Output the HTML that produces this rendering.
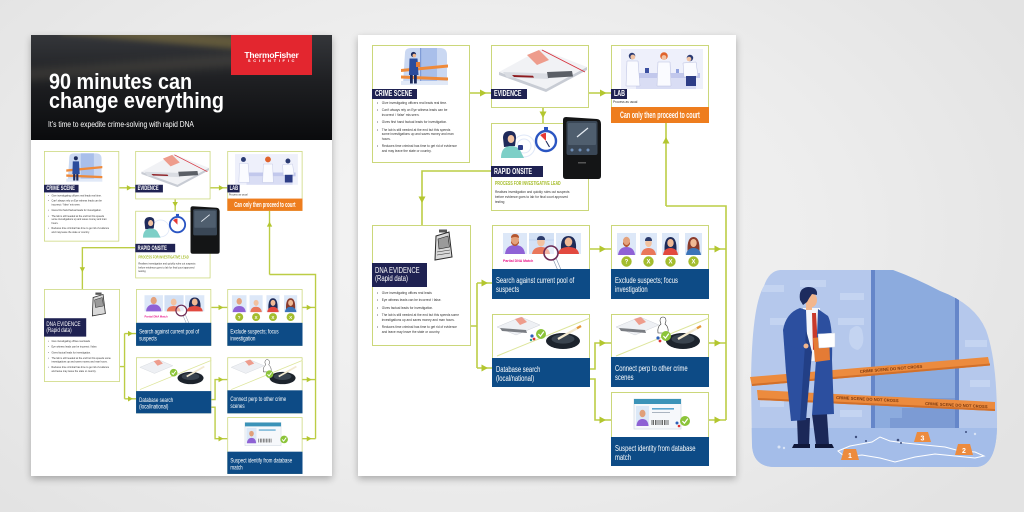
<!DOCTYPE html>
<html><head><meta charset="utf-8"><title>90 minutes can change everything</title>
<style>
*{margin:0;padding:0;box-sizing:border-box}
html,body{width:1024px;height:512px;overflow:hidden}
body{position:relative;font-family:"Liberation Sans",Arial,sans-serif;background:radial-gradient(ellipse 62% 78% at 46% 45%,#f5f5f5 0%,#ededed 55%,#e3e3e3 100%)}
.pg{position:absolute;background:#fff;box-shadow:0 3px 7px rgba(0,0,0,.28)}
.fl{position:absolute;left:0;top:0;width:1024px;height:512px;transform-origin:0 0}
.fl>svg{position:absolute;left:0;top:0;overflow:visible}
.bx{position:absolute;border:1.3px solid #cbd77a;background:#fff}
.lb{position:absolute;background:#1f2252;overflow:hidden}
.lt{font-size:8px;font-weight:bold;color:#fff;line-height:9.5px;white-space:nowrap;transform:scaleX(.67);transform-origin:0 0;margin-left:2.5px}
.bl{position:absolute;background:#0d4b86;padding:6.5px 0 0 4px}
.bt{font-size:8.5px;line-height:9px;color:#fff;white-space:nowrap;transform:scaleX(.69);transform-origin:0 0}
.sm{position:absolute;font-size:4px;line-height:4.7px;color:#333;white-space:nowrap;transform:scaleX(.8);transform-origin:0 0}
.sm div{position:relative;padding-left:6px;margin-bottom:2.6px}
.sm div:before{content:"\2022";position:absolute;left:0;top:0}
.ab{position:absolute;white-space:nowrap}
</style></head><body>

<!-- LEFT PAGE -->
<div class="pg" style="left:31px;top:35px;width:301px;height:441px"></div>
<div style="position:absolute;left:31px;top:35px;width:301px;height:105px;background:linear-gradient(180deg,#34363a 0%,#1e1f22 45%,#0a0b0d 100%);overflow:hidden">
  <div style="position:absolute;left:30px;top:-6px;width:190px;height:13px;background:rgba(190,160,70,.35);transform:rotate(5deg);filter:blur(3px)"></div>
  <div style="position:absolute;left:-20px;top:26px;width:260px;height:12px;background:rgba(160,150,120,.16);transform:rotate(-4deg);filter:blur(4px)"></div>
</div>
<div style="position:absolute;left:231px;top:35px;width:81px;height:40px;background:#e3262f"></div>
<div class="ab" style="left:231px;top:50.5px;width:81px;text-align:center;font-size:8.5px;line-height:9px;font-weight:bold;color:#fff;letter-spacing:-.2px">ThermoFisher</div>
<div class="ab" style="left:231px;top:59px;width:81px;text-align:center;font-size:4px;line-height:4px;font-weight:bold;color:#fff;letter-spacing:2.7px;padding-left:2px">SCIENTIFIC</div>
<div class="ab" style="left:49px;top:72px;font-size:22px;line-height:19px;font-weight:bold;color:#fff;transform:scaleX(.9);transform-origin:0 0">90 minutes can<br>change everything</div>
<div class="ab" style="left:48px;top:120.5px;font-size:8px;line-height:8px;color:#fff;transform:scaleX(.84);transform-origin:0 0">It’s time to expedite crime-solving with rapid DNA</div>

<!-- MIDDLE PAGE -->
<div class="pg" style="left:358px;top:35px;width:378px;height:441px"></div>

<!-- FLOW (middle) -->
<div class="fl">
<svg width="1024" height="512">
<path fill="none" stroke="#bccd45" stroke-width="1.6" d="M470,93H491M589,93H611M543,108V123M491,171H422V225M666,206V123M666,206H726V420M471,326H477M477,283V368M477,283H492M477,368H492M590,249H611M590,369H595V343H611M590,379H595V420H611M709,249H726M709,343H726M709,420H726"/>
<g fill="#b3c62f">
<path d="M480,89.5L486.5,93L480,96.5Z"/><path d="M600,89.5L606.5,93L600,96.5Z"/>
<path d="M481.5,279.5L488,283L481.5,286.5Z"/><path d="M481.5,364.5L488,368L481.5,371.5Z"/>
<path d="M599.5,245.5L606,249L599.5,252.5Z"/><path d="M599.5,339.5L606,343L599.5,346.5Z"/><path d="M599.5,416.5L606,420L599.5,423.5Z"/>
<path d="M714.5,245.5L721,249L714.5,252.5Z"/><path d="M714.5,339.5L721,343L714.5,346.5Z"/><path d="M714.5,416.5L721,420L714.5,423.5Z"/>
<path d="M539.5,111.5L543,118L546.5,111.5Z"/><path d="M418.5,196.5L422,203L425.5,196.5Z"/>
<path d="M662.5,143.5L666,137L669.5,143.5Z"/>
</g>
</svg>
<div class="bx" style="left:372px;top:45px;width:98px;height:118px"></div>
<div class="bx" style="left:491px;top:45px;width:98px;height:63px"></div>
<div class="bx" style="left:611px;top:45px;width:98px;height:78px"></div>
<div class="bx" style="left:491px;top:123px;width:98px;height:88px"></div>
<div class="bx" style="left:372px;top:225px;width:99px;height:121px"></div>
<div class="bx" style="left:492px;top:225px;width:98px;height:74px"></div>
<div class="bx" style="left:611px;top:225px;width:98px;height:74px"></div>
<div class="bx" style="left:492px;top:314px;width:98px;height:73px"></div>
<div class="bx" style="left:611px;top:314px;width:98px;height:73px"></div>
<div class="bx" style="left:611px;top:392px;width:98px;height:74px"></div>
<svg width="1024" height="512">
<!-- crime scene -->
<path d="M405,53Q405,48 411,48L440,48Q447,48 447,55L447,84L403,84Z" fill="#cad8f2"/>
<rect x="420" y="48" width="17" height="36" fill="#a9bfea"/>
<rect x="420" y="48" width="1.2" height="36" fill="#7f9bd6"/>
<rect x="401" y="81" width="47" height="4" fill="#e1e9f7"/>
<path d="M401,69L448,64.5L448,67.5L401,72Z" fill="#ef8a3a"/>
<path d="M401,75.5L448,77.5L448,80.5L401,78.5Z" fill="#ef8a3a"/>
<circle cx="413.5" cy="54.5" r="2.6" fill="#1c2a5c"/>
<circle cx="414.3" cy="55.6" r="1.8" fill="#f2b68d"/>
<path d="M409.5,58.5L417.5,58.5L418.5,75L409,75Z" fill="#2b4c9c"/>
<rect x="410" y="75" width="2.8" height="8.5" fill="#1c2a5c"/>
<rect x="414" y="75" width="2.8" height="8.5" fill="#1c2a5c"/>
<rect x="416" y="62" width="4" height="5" fill="#e47b35"/>
<!-- evidence -->
<path d="M499,72L541,49L587,67L546,89Z" fill="#f1f2f5"/>
<path d="M499,72L546,89L587,67L587,70L546,92L499,75Z" fill="#c8ccd4"/>
<path d="M527,55L539,50L549,60L537,65Z" fill="#ee9c8c"/>
<path d="M542,50L585,72" stroke="#d62f3a" stroke-width=".9"/>
<path d="M503,72L547,73.5L549,79L507,77.5Z" fill="#dadde3"/>
<path d="M512,75L533,75.8L534,77.6L514,77Z" fill="#8e1b1f"/>
<path d="M547,72L572,71L573,76.5L548,78Z" fill="#5b5f66"/>
<!-- lab -->
<rect x="621" y="49" width="82" height="40" fill="#eef0fb"/>
<rect x="628" y="73" width="72" height="5" fill="#c2c8ec"/>
<rect x="636" y="78" width="60" height="11" fill="#d9ddf4"/>
<circle cx="632" cy="56" r="3.2" fill="#2a3a72"/>
<circle cx="632.8" cy="57" r="2.4" fill="#f2c3a3"/>
<path d="M627,61L638,61L640,86L626,86Z" fill="#fafbff" stroke="#b9bfe0" stroke-width=".5"/>
<circle cx="664" cy="56" r="3.8" fill="#e0632c"/>
<circle cx="664" cy="57.5" r="2.4" fill="#f2c3a3"/>
<path d="M658,62L670,62L671,86L657,86Z" fill="#fafbff" stroke="#b9bfe0" stroke-width=".5"/>
<circle cx="690" cy="58" r="3.2" fill="#2a3a72"/>
<circle cx="689" cy="59" r="2.3" fill="#f2c3a3"/>
<path d="M683,63L696,62L698,76L684,77Z" fill="#fafbff" stroke="#b9bfe0" stroke-width=".5"/>
<rect x="686" y="76" width="10" height="10" fill="#2d3d86"/>
<rect x="645" y="68" width="4" height="5" fill="#3a4fa0"/>
<rect x="676" y="69" width="3" height="4" fill="#8fa0dc"/>
<!-- rapid onsite -->
<circle cx="524" cy="146" r="11" fill="none" stroke="#dfe8f8" stroke-width="1"/>
<circle cx="524" cy="146" r="7" fill="none" stroke="#dfe8f8" stroke-width="1"/>
<path d="M503,138Q503,131 510,131Q516,131 516,138L515,146L504,147Z" fill="#1f2a5a"/>
<ellipse cx="511" cy="139" rx="3.3" ry="4" fill="#f2c3a3"/>
<path d="M501,158Q501,147 510,146Q519,146 521,152L524,158Z" fill="#7dcfc7"/>
<rect x="518" y="145" width="5" height="5" rx="1" fill="#2c3c88"/>
<circle cx="546" cy="141" r="10" fill="#fff" stroke="#2a55c2" stroke-width="2.4"/>
<rect x="544" y="127" width="4" height="3" fill="#2a55c2"/>
<path d="M546,141L546,133A8,8 0 0 0 540.3,135.3Z" fill="#e53935"/>
<path d="M546,141L549.5,147" stroke="#1f2a5a" stroke-width="1.1"/>
<path d="M566,117L597,119Q601,119.5 601,124L601,176Q601,179 598,179L566,179Q563,179 563,176L563,120Q563,117 566,117Z" fill="#141516"/>
<rect x="566.5" y="121" width="31" height="34" rx="2" fill="#3a4756"/>
<rect x="568" y="123" width="28" height="22" rx="1" fill="#4f5e6e"/>
<path d="M577,137L588,128" stroke="#e8eef5" stroke-width="1.2"/>
<circle cx="572" cy="150" r="1.5" fill="#6f8fb8"/><circle cx="580" cy="150" r="1.5" fill="#6f8fb8"/><circle cx="588" cy="150" r="1.5" fill="#6f8fb8"/>
<rect x="578" y="162" width="8" height="1.5" fill="#555"/>
<!-- dna icon -->
<rect x="439" y="229.5" width="8" height="3" fill="#555"/>
<path d="M436,236L449,232L452,257L435,260Z" fill="#d9d9d9" stroke="#2a2a2a" stroke-width="1"/>
<path d="M438,239L448,236L449.5,247L439,249Z" fill="#9a9a9a" stroke="#222" stroke-width=".6"/>
<path d="M437,252L450,250M437,255L450,253" stroke="#333" stroke-width=".6"/>
<!-- search portraits -->
<rect x="503" y="233" width="24" height="21" fill="#dde8f8"/>
<path d="M505,254Q506,245 515,245Q524,245 525,254Z" fill="#8f62d6"/>
<ellipse cx="515" cy="240" rx="4" ry="4.8" fill="#e4a27c"/>
<path d="M511,241Q515,248 519,241L519,243Q515,249 511,243Z" fill="#b4562f"/>
<path d="M511,238Q511,234 515,234Q519,234 519,238Q515,236 511,238Z" fill="#b4562f"/>
<rect x="529" y="233" width="25" height="21" fill="#d3e1f5"/>
<path d="M529,240H554M541,233V254" stroke="#bcd0ee" stroke-width=".8"/>
<path d="M532,254Q533,247 541,247Q549,247 550,254Z" fill="#e9775a"/>
<ellipse cx="541" cy="242" rx="3.8" ry="4.5" fill="#f2c2a0"/>
<path d="M537,240Q537,236 541,236Q545,236 545,240Z" fill="#2b3a6a"/>
<rect x="556" y="233" width="25" height="21" fill="#dde8f8"/>
<path d="M561,250Q560,236 568.5,236Q577,236 576,250Z" fill="#1f2b58"/>
<path d="M558,254Q559,247 568.5,247Q578,247 579,254Z" fill="#e2493f"/>
<ellipse cx="568.5" cy="242" rx="3.8" ry="4.5" fill="#f0b995"/>
<path d="M553,259L559,273L562,272L556,258Z" fill="#fff" stroke="#7e8fa8" stroke-width=".6"/>
<circle cx="551" cy="253" r="7" fill="#fff" fill-opacity=".45" stroke="#6d2c55" stroke-width="1.6"/>
<!-- exclude portraits -->
<rect x="617" y="233" width="19" height="22" fill="#dde8f8"/>
<path d="M618,255Q619,247 626.5,247Q634,247 635,255Z" fill="#8f62d6"/>
<ellipse cx="626.5" cy="241" rx="3.5" ry="4.3" fill="#e4a27c"/>
<path d="M623,242Q626.5,248 630,242L630,244Q626.5,250 623,244Z" fill="#b4562f"/>
<rect x="640" y="233" width="17" height="22" fill="#dde8f8"/>
<path d="M641,255Q642,248 648.5,248Q655,248 656,255Z" fill="#e9775a"/>
<ellipse cx="648.5" cy="243" rx="3.3" ry="4" fill="#f2c2a0"/>
<path d="M645,241Q645,237 648.5,237Q652,237 652,241Z" fill="#2b3a6a"/>
<rect x="662" y="233" width="17" height="22" fill="#dde8f8"/>
<path d="M664.5,251Q664,237 670.5,237Q677,237 676.5,251Z" fill="#1f2b58"/>
<path d="M663,255Q664,248 670.5,248Q677,248 678,255Z" fill="#e2493f"/>
<ellipse cx="670.5" cy="243" rx="3.2" ry="4" fill="#f0b995"/>
<rect x="685" y="233" width="17" height="22" fill="#dde8f8"/>
<path d="M687.5,251Q687,237 693.5,237Q700,237 699.5,251Z" fill="#8a3b2c"/>
<path d="M686,255Q687,248 693.5,248Q700,248 701,255Z" fill="#3c74b8"/>
<ellipse cx="693.5" cy="243" rx="3.2" ry="4" fill="#f0b995"/>
<circle cx="626.5" cy="261.5" r="5.2" fill="#a4bd2e"/><circle cx="648.5" cy="261.5" r="5.2" fill="#a4bd2e"/>
<circle cx="670.5" cy="261.5" r="5.2" fill="#a4bd2e"/><circle cx="693.5" cy="261.5" r="5.2" fill="#a4bd2e"/>
<g font-family="Liberation Sans,Arial,sans-serif" font-size="6" font-weight="bold" fill="#fff" text-anchor="middle">
<text x="626.5" y="263.7">?</text><text x="648.5" y="263.7">X</text><text x="670.5" y="263.7">X</text><text x="693.5" y="263.7">X</text>
</g>
<!-- database -->
<path d="M497,356L590,318" stroke="#dde59a" stroke-width="1"/>
<path d="M497,327L521,317L540,325L516,335Z" fill="#eef0f4" stroke="#cfd2d8" stroke-width=".5"/>
<path d="M515,319L522,317L527,322L520,325Z" fill="#ee9c8c"/>
<path d="M500,328L526,330L527,333L502,331Z" fill="#7a7d83"/>
<ellipse cx="563" cy="341" rx="17" ry="8" fill="#1c232c"/>
<ellipse cx="563" cy="339" rx="11.5" ry="4.6" fill="#39434e"/>
<path d="M558,339L581,326" stroke="#f3ead0" stroke-width="2.3"/>
<path d="M577,328.3L581,326" stroke="#e39a3c" stroke-width="2.3"/>
<circle cx="532" cy="336" r="1.6" fill="#2d5fb8"/><circle cx="534" cy="339" r="1.4" fill="#d33"/><circle cx="531" cy="340" r="1.2" fill="#2a9b8f"/>
<circle cx="541" cy="334" r="5" fill="#8cc43a"/>
<path d="M538.4,334L540.4,336.2L543.8,331.6" stroke="#fff" stroke-width="1.2" fill="none"/>
<!-- connect -->
<path d="M616,356L709,318" stroke="#dde59a" stroke-width="1"/>
<path d="M616,327L640,317L659,325L635,335Z" fill="#eef0f4" stroke="#cfd2d8" stroke-width=".5"/>
<path d="M634,319L641,317L646,322L639,325Z" fill="#ee9c8c"/>
<path d="M619,328L645,330L646,333L621,331Z" fill="#7a7d83"/>
<ellipse cx="683" cy="341" rx="17" ry="8" fill="#1c232c"/>
<ellipse cx="683" cy="339" rx="11.5" ry="4.6" fill="#39434e"/>
<path d="M678,339L701,326" stroke="#f3ead0" stroke-width="2.3"/>
<path d="M697,328.3L701,326" stroke="#e39a3c" stroke-width="2.3"/>
<path d="M660,321Q660,317 663,317Q666,317 666,321L665,324Q669,327 668,333L658,333Q657,327 661,324Z" fill="#fff" stroke="#333" stroke-width=".6"/>
<circle cx="658" cy="338" r="1.6" fill="#2d5fb8"/><circle cx="660" cy="341" r="1.4" fill="#d33"/>
<circle cx="666" cy="336" r="5" fill="#8cc43a"/>
<path d="M663.4,336L665.4,338.2L668.8,333.6" stroke="#fff" stroke-width="1.2" fill="none"/>
<!-- suspect id -->
<rect x="634" y="399" width="47" height="30" fill="#f6f8fb" stroke="#c9d3de" stroke-width=".6"/>
<rect x="634" y="399" width="47" height="5" fill="#3b93b8"/>
<rect x="636" y="406" width="13" height="20" fill="#dbe8f7"/>
<path d="M636.5,426Q637,419 642.5,419Q648,419 648.5,426Z" fill="#8e62d4"/>
<ellipse cx="642.5" cy="413.5" rx="3" ry="3.7" fill="#e0a07a"/>
<rect x="652" y="408" width="22" height="1.6" fill="#5aa6cf"/>
<rect x="652" y="412" width="18" height="1" fill="#aab4c0"/>
<path d="M652,420V425M653.5,420V425M655.5,420V425M657,420V425M659,420V425M661,420V425M662.5,420V425M664.5,420V425M666,420V425M668,420V425" stroke="#444" stroke-width=".8"/>
<circle cx="677" cy="423" r="1.5" fill="#2d5fb8"/><circle cx="679" cy="426" r="1.3" fill="#d33"/>
<circle cx="685" cy="421" r="5" fill="#8cc43a"/>
<path d="M682.4,421L684.4,423.2L687.8,418.6" stroke="#fff" stroke-width="1.2" fill="none"/>
</svg>
<div class="lb" style="left:372px;top:89px;width:45px;height:9.5px"><div class="lt">CRIME SCENE</div></div>
<div class="lb" style="left:491px;top:89px;width:36px;height:9.5px"><div class="lt">EVIDENCE</div></div>
<div class="lb" style="left:611px;top:89px;width:16px;height:9.5px"><div class="lt">LAB</div></div>
<div class="lb" style="left:491px;top:166px;width:52px;height:11px"><div class="lt" style="line-height:11px">RAPID ONSITE</div></div>
<div class="lb" style="left:372px;top:263px;width:55px;height:24px;padding-top:3.5px"><div class="lt" style="font-weight:normal;line-height:8.5px;transform:scaleX(.75)">DNA EVIDENCE<br>(Rapid data)</div></div>
<div class="sm" style="left:377px;top:101px">
<div>Give investigating officers real leads real time.</div>
<div>Can’t always rely on Eye witness leads can be<br>incorrect / ‘false’ mis seen.</div>
<div>Gives first hand factual leads for investigation.</div>
<div>The lab is still needed at the end but this speeds<br>some investigations up and saves money and man<br>hours.</div>
<div>Reduces time criminal has time to get rid of evidence<br>and may leave the state or country.</div>
</div>
<div class="sm" style="left:613px;top:100px">Process as usual</div>
<div style="position:absolute;left:611px;top:107px;width:98px;height:16px;background:#ee7d1e;overflow:hidden"><div style="width:163px;text-align:center;font-size:9px;line-height:16px;font-weight:bold;color:#fff;white-space:nowrap;transform:scaleX(.6);transform-origin:0 0">Can only then proceed to court</div></div>
<div class="ab" style="left:495px;top:181px;font-size:5.5px;line-height:6px;font-weight:bold;color:#a6bd2a;transform:scaleX(.66);transform-origin:0 0">PROCESS FOR INVESTIGATIVE LEAD</div>
<div class="sm" style="left:495px;top:189px;line-height:5px">Realises investigation and quickly rules out suspects<br>before evidence goes to lab for final court approved<br>testing</div>
<div class="sm" style="left:377px;top:291px">
<div>Give investigating offices real leads</div>
<div>Eye witness leads can be incorrect / false.</div>
<div>Gives factual leads for investigation.</div>
<div>The lab is still needed at the end but this speeds some<br>investigations up and saves money and man hours.</div>
<div>Reduces time criminal has time to get rid of evidence<br>and leave may leave the state or country.</div>
</div>
<div class="ab" style="left:503px;top:259px;font-size:3.5px;line-height:4px;font-weight:bold;color:#e8168a">Partial DNA Match</div>
<div class="bl" style="left:492px;top:269px;width:98px;height:30px"><div class="bt">Search against current pool of<br>suspects</div></div>
<div class="bl" style="left:611px;top:269px;width:98px;height:30px"><div class="bt">Exclude suspects; focus<br>investigation</div></div>
<div class="bl" style="left:492px;top:358px;width:98px;height:29px"><div class="bt">Database search<br>(local/national)</div></div>
<div class="bl" style="left:611px;top:357px;width:98px;height:30px"><div class="bt">Connect perp to other crime<br>scenes</div></div>
<div class="bl" style="left:611px;top:437px;width:98px;height:29px"><div class="bt">Suspect identity from database<br>match</div></div>
</div>

<!-- FLOW (left, scaled copy) -->
<div class="fl" style="transform:translate(-241.3px,116.5px) scale(.767)">
<svg width="1024" height="512">
<path fill="none" stroke="#bccd45" stroke-width="1.8" d="M470,93H491M589,93H611M543,108V123M491,171H422V225M666,206V123M666,206H726V420M471,326H477M477,283V368M477,283H492M477,368H492M590,249H611M590,369H595V343H611M590,379H595V420H611M709,249H726M709,343H726M709,420H726"/>
<g fill="#b3c62f">
<path d="M480,89.5L486.5,93L480,96.5Z"/><path d="M600,89.5L606.5,93L600,96.5Z"/>
<path d="M481.5,279.5L488,283L481.5,286.5Z"/><path d="M481.5,364.5L488,368L481.5,371.5Z"/>
<path d="M599.5,245.5L606,249L599.5,252.5Z"/><path d="M599.5,339.5L606,343L599.5,346.5Z"/><path d="M599.5,416.5L606,420L599.5,423.5Z"/>
<path d="M714.5,245.5L721,249L714.5,252.5Z"/><path d="M714.5,339.5L721,343L714.5,346.5Z"/><path d="M714.5,416.5L721,420L714.5,423.5Z"/>
<path d="M539.5,111.5L543,118L546.5,111.5Z"/><path d="M418.5,196.5L422,203L425.5,196.5Z"/>
<path d="M662.5,143.5L666,137L669.5,143.5Z"/>
</g>
</svg>
<div class="bx" style="left:372px;top:45px;width:98px;height:118px"></div>
<div class="bx" style="left:491px;top:45px;width:98px;height:63px"></div>
<div class="bx" style="left:611px;top:45px;width:98px;height:78px"></div>
<div class="bx" style="left:491px;top:123px;width:98px;height:88px"></div>
<div class="bx" style="left:372px;top:225px;width:99px;height:121px"></div>
<div class="bx" style="left:492px;top:225px;width:98px;height:74px"></div>
<div class="bx" style="left:611px;top:225px;width:98px;height:74px"></div>
<div class="bx" style="left:492px;top:314px;width:98px;height:73px"></div>
<div class="bx" style="left:611px;top:314px;width:98px;height:73px"></div>
<div class="bx" style="left:611px;top:392px;width:98px;height:74px"></div>
<svg width="1024" height="512">
<path d="M405,53Q405,48 411,48L440,48Q447,48 447,55L447,84L403,84Z" fill="#cad8f2"/>
<rect x="420" y="48" width="17" height="36" fill="#a9bfea"/>
<rect x="401" y="81" width="47" height="4" fill="#e1e9f7"/>
<path d="M401,69L448,64.5L448,67.5L401,72Z" fill="#ef8a3a"/>
<path d="M401,75.5L448,77.5L448,80.5L401,78.5Z" fill="#ef8a3a"/>
<circle cx="413.5" cy="54.5" r="2.6" fill="#1c2a5c"/>
<path d="M409.5,58.5L417.5,58.5L418.5,75L409,75Z" fill="#2b4c9c"/>
<rect x="410" y="75" width="2.8" height="8.5" fill="#1c2a5c"/>
<rect x="414" y="75" width="2.8" height="8.5" fill="#1c2a5c"/>
<path d="M499,72L541,49L587,67L546,89Z" fill="#f1f2f5"/>
<path d="M499,72L546,89L587,67L587,70L546,92L499,75Z" fill="#c8ccd4"/>
<path d="M527,55L539,50L549,60L537,65Z" fill="#ee9c8c"/>
<path d="M542,50L585,72" stroke="#d62f3a" stroke-width=".9"/>
<path d="M503,72L547,73.5L549,79L507,77.5Z" fill="#dadde3"/>
<path d="M512,75L533,75.8L534,77.6L514,77Z" fill="#8e1b1f"/>
<path d="M547,72L572,71L573,76.5L548,78Z" fill="#5b5f66"/>
<rect x="621" y="49" width="82" height="40" fill="#eef0fb"/>
<rect x="628" y="73" width="72" height="5" fill="#c2c8ec"/>
<rect x="636" y="78" width="60" height="11" fill="#d9ddf4"/>
<circle cx="632" cy="56" r="3.2" fill="#2a3a72"/>
<path d="M627,61L638,61L640,86L626,86Z" fill="#fafbff" stroke="#b9bfe0" stroke-width=".5"/>
<circle cx="664" cy="56" r="3.8" fill="#e0632c"/>
<path d="M658,62L670,62L671,86L657,86Z" fill="#fafbff" stroke="#b9bfe0" stroke-width=".5"/>
<circle cx="690" cy="58" r="3.2" fill="#2a3a72"/>
<path d="M683,63L696,62L698,76L684,77Z" fill="#fafbff" stroke="#b9bfe0" stroke-width=".5"/>
<rect x="686" y="76" width="10" height="10" fill="#2d3d86"/>
<circle cx="524" cy="146" r="11" fill="none" stroke="#dfe8f8" stroke-width="1"/>
<path d="M503,138Q503,131 510,131Q516,131 516,138L515,146L504,147Z" fill="#1f2a5a"/>
<ellipse cx="511" cy="139" rx="3.3" ry="4" fill="#f2c3a3"/>
<path d="M501,158Q501,147 510,146Q519,146 521,152L524,158Z" fill="#7dcfc7"/>
<circle cx="546" cy="141" r="10" fill="#fff" stroke="#2a55c2" stroke-width="2.4"/>
<rect x="544" y="127" width="4" height="3" fill="#2a55c2"/>
<path d="M546,141L546,133A8,8 0 0 0 540.3,135.3Z" fill="#e53935"/>
<path d="M566,117L597,119Q601,119.5 601,124L601,176Q601,179 598,179L566,179Q563,179 563,176L563,120Q563,117 566,117Z" fill="#141516"/>
<rect x="566.5" y="121" width="31" height="34" rx="2" fill="#3a4756"/>
<rect x="568" y="123" width="28" height="22" rx="1" fill="#4f5e6e"/>
<path d="M577,137L588,128" stroke="#e8eef5" stroke-width="1.2"/>
<rect x="439" y="229.5" width="8" height="3" fill="#555"/>
<path d="M436,236L449,232L452,257L435,260Z" fill="#d9d9d9" stroke="#2a2a2a" stroke-width="1"/>
<path d="M438,239L448,236L449.5,247L439,249Z" fill="#9a9a9a" stroke="#222" stroke-width=".6"/>
<rect x="503" y="233" width="24" height="21" fill="#dde8f8"/>
<path d="M505,254Q506,245 515,245Q524,245 525,254Z" fill="#8f62d6"/>
<ellipse cx="515" cy="240" rx="4" ry="4.8" fill="#e4a27c"/>
<rect x="529" y="233" width="25" height="21" fill="#d3e1f5"/>
<path d="M532,254Q533,247 541,247Q549,247 550,254Z" fill="#e9775a"/>
<ellipse cx="541" cy="242" rx="3.8" ry="4.5" fill="#f2c2a0"/>
<rect x="556" y="233" width="25" height="21" fill="#dde8f8"/>
<path d="M561,250Q560,236 568.5,236Q577,236 576,250Z" fill="#1f2b58"/>
<path d="M558,254Q559,247 568.5,247Q578,247 579,254Z" fill="#e2493f"/>
<ellipse cx="568.5" cy="242" rx="3.8" ry="4.5" fill="#f0b995"/>
<path d="M553,259L559,273L562,272L556,258Z" fill="#fff" stroke="#7e8fa8" stroke-width=".6"/>
<circle cx="551" cy="253" r="7" fill="#fff" fill-opacity=".45" stroke="#6d2c55" stroke-width="1.6"/>
<rect x="617" y="233" width="19" height="22" fill="#dde8f8"/>
<path d="M618,255Q619,247 626.5,247Q634,247 635,255Z" fill="#8f62d6"/>
<ellipse cx="626.5" cy="241" rx="3.5" ry="4.3" fill="#e4a27c"/>
<rect x="640" y="233" width="17" height="22" fill="#dde8f8"/>
<path d="M641,255Q642,248 648.5,248Q655,248 656,255Z" fill="#e9775a"/>
<ellipse cx="648.5" cy="243" rx="3.3" ry="4" fill="#f2c2a0"/>
<rect x="662" y="233" width="17" height="22" fill="#dde8f8"/>
<path d="M664.5,251Q664,237 670.5,237Q677,237 676.5,251Z" fill="#1f2b58"/>
<path d="M663,255Q664,248 670.5,248Q677,248 678,255Z" fill="#e2493f"/>
<ellipse cx="670.5" cy="243" rx="3.2" ry="4" fill="#f0b995"/>
<rect x="685" y="233" width="17" height="22" fill="#dde8f8"/>
<path d="M687.5,251Q687,237 693.5,237Q700,237 699.5,251Z" fill="#8a3b2c"/>
<path d="M686,255Q687,248 693.5,248Q700,248 701,255Z" fill="#3c74b8"/>
<ellipse cx="693.5" cy="243" rx="3.2" ry="4" fill="#f0b995"/>
<circle cx="626.5" cy="261.5" r="5.2" fill="#a4bd2e"/><circle cx="648.5" cy="261.5" r="5.2" fill="#a4bd2e"/>
<circle cx="670.5" cy="261.5" r="5.2" fill="#a4bd2e"/><circle cx="693.5" cy="261.5" r="5.2" fill="#a4bd2e"/>
<g font-family="Liberation Sans,Arial,sans-serif" font-size="6" font-weight="bold" fill="#fff" text-anchor="middle">
<text x="626.5" y="263.7">?</text><text x="648.5" y="263.7">X</text><text x="670.5" y="263.7">X</text><text x="693.5" y="263.7">X</text>
</g>
<path d="M497,356L590,318" stroke="#dde59a" stroke-width="1"/>
<path d="M497,327L521,317L540,325L516,335Z" fill="#eef0f4" stroke="#cfd2d8" stroke-width=".5"/>
<path d="M515,319L522,317L527,322L520,325Z" fill="#ee9c8c"/>
<ellipse cx="563" cy="341" rx="17" ry="8" fill="#1c232c"/>
<ellipse cx="563" cy="339" rx="11.5" ry="4.6" fill="#39434e"/>
<path d="M558,339L581,326" stroke="#f3ead0" stroke-width="2.3"/>
<circle cx="541" cy="334" r="5" fill="#8cc43a"/>
<path d="M538.4,334L540.4,336.2L543.8,331.6" stroke="#fff" stroke-width="1.2" fill="none"/>
<path d="M616,356L709,318" stroke="#dde59a" stroke-width="1"/>
<path d="M616,327L640,317L659,325L635,335Z" fill="#eef0f4" stroke="#cfd2d8" stroke-width=".5"/>
<path d="M634,319L641,317L646,322L639,325Z" fill="#ee9c8c"/>
<ellipse cx="683" cy="341" rx="17" ry="8" fill="#1c232c"/>
<ellipse cx="683" cy="339" rx="11.5" ry="4.6" fill="#39434e"/>
<path d="M678,339L701,326" stroke="#f3ead0" stroke-width="2.3"/>
<path d="M660,321Q660,317 663,317Q666,317 666,321L665,324Q669,327 668,333L658,333Q657,327 661,324Z" fill="#fff" stroke="#333" stroke-width=".6"/>
<circle cx="666" cy="336" r="5" fill="#8cc43a"/>
<path d="M663.4,336L665.4,338.2L668.8,333.6" stroke="#fff" stroke-width="1.2" fill="none"/>
<rect x="634" y="399" width="47" height="30" fill="#f6f8fb" stroke="#c9d3de" stroke-width=".6"/>
<rect x="634" y="399" width="47" height="5" fill="#3b93b8"/>
<rect x="636" y="406" width="13" height="20" fill="#dbe8f7"/>
<path d="M636.5,426Q637,419 642.5,419Q648,419 648.5,426Z" fill="#8e62d4"/>
<ellipse cx="642.5" cy="413.5" rx="3" ry="3.7" fill="#e0a07a"/>
<rect x="652" y="408" width="22" height="1.6" fill="#5aa6cf"/>
<path d="M652,420V425M654,420V425M656,420V425M658,420V425M660,420V425M662,420V425M664,420V425M666,420V425M668,420V425" stroke="#444" stroke-width=".8"/>
<circle cx="685" cy="421" r="5" fill="#8cc43a"/>
<path d="M682.4,421L684.4,423.2L687.8,418.6" stroke="#fff" stroke-width="1.2" fill="none"/>
</svg>
<div class="lb" style="left:372px;top:89px;width:45px;height:9.5px"><div class="lt">CRIME SCENE</div></div>
<div class="lb" style="left:491px;top:89px;width:36px;height:9.5px"><div class="lt">EVIDENCE</div></div>
<div class="lb" style="left:611px;top:89px;width:16px;height:9.5px"><div class="lt">LAB</div></div>
<div class="lb" style="left:491px;top:166px;width:52px;height:11px"><div class="lt" style="line-height:11px">RAPID ONSITE</div></div>
<div class="lb" style="left:372px;top:263px;width:55px;height:24px;padding-top:3.5px"><div class="lt" style="font-weight:normal;line-height:8.5px;transform:scaleX(.75)">DNA EVIDENCE<br>(Rapid data)</div></div>
<div class="sm" style="left:377px;top:101px">
<div>Give investigating officers real leads real time.</div>
<div>Can’t always rely on Eye witness leads can be<br>incorrect / ‘false’ mis seen.</div>
<div>Gives first hand factual leads for investigation.</div>
<div>The lab is still needed at the end but this speeds<br>some investigations up and saves money and man<br>hours.</div>
<div>Reduces time criminal has time to get rid of evidence<br>and may leave the state or country.</div>
</div>
<div class="sm" style="left:613px;top:100px">Process as usual</div>
<div style="position:absolute;left:611px;top:107px;width:98px;height:16px;background:#ee7d1e;overflow:hidden"><div style="width:163px;text-align:center;font-size:9px;line-height:16px;font-weight:bold;color:#fff;white-space:nowrap;transform:scaleX(.6);transform-origin:0 0">Can only then proceed to court</div></div>
<div class="ab" style="left:495px;top:181px;font-size:5.5px;line-height:6px;font-weight:bold;color:#a6bd2a;transform:scaleX(.66);transform-origin:0 0">PROCESS FOR INVESTIGATIVE LEAD</div>
<div class="sm" style="left:495px;top:189px;line-height:5px">Realises investigation and quickly rules out suspects<br>before evidence goes to lab for final court approved<br>testing</div>
<div class="sm" style="left:377px;top:291px">
<div>Give investigating offices real leads</div>
<div>Eye witness leads can be incorrect / false.</div>
<div>Gives factual leads for investigation.</div>
<div>The lab is still needed at the end but this speeds some<br>investigations up and saves money and man hours.</div>
<div>Reduces time criminal has time to get rid of evidence<br>and leave may leave the state or country.</div>
</div>
<div class="ab" style="left:503px;top:259px;font-size:3.5px;line-height:4px;font-weight:bold;color:#e8168a">Partial DNA Match</div>
<div class="bl" style="left:492px;top:269px;width:98px;height:30px"><div class="bt">Search against current pool of<br>suspects</div></div>
<div class="bl" style="left:611px;top:269px;width:98px;height:30px"><div class="bt">Exclude suspects; focus<br>investigation</div></div>
<div class="bl" style="left:492px;top:358px;width:98px;height:29px"><div class="bt">Database search<br>(local/national)</div></div>
<div class="bl" style="left:611px;top:357px;width:98px;height:30px"><div class="bt">Connect perp to other crime<br>scenes</div></div>
<div class="bl" style="left:611px;top:437px;width:98px;height:29px"><div class="bt">Suspect identify from database<br>match</div></div>
</div>

<!-- RIGHT ILLUSTRATION -->
<svg style="position:absolute;left:0;top:0" width="1024" height="512">
<defs><clipPath id="blob"><path d="M780,270L893,270Q915,278 940,291Q975,304 986,330Q997,360 997,420Q998,467 975,467L775,467Q753,467 752,445L751,380Q752,305 764,286Q769,271 780,270Z"/></clipPath></defs>
<g clip-path="url(#blob)">
<rect x="745" y="265" width="260" height="205" fill="#b5c8ec"/>
<rect x="762" y="285" width="22" height="7" fill="#c4d4f1"/><rect x="800" y="280" width="26" height="7" fill="#c4d4f1"/>
<rect x="840" y="293" width="24" height="7" fill="#c4d4f1"/><rect x="770" y="318" width="20" height="7" fill="#c4d4f1"/>
<rect x="838" y="318" width="26" height="7" fill="#c4d4f1"/><rect x="760" y="400" width="24" height="7" fill="#c4d4f1"/>
<rect x="840" y="410" width="22" height="7" fill="#c4d4f1"/><rect x="965" y="340" width="22" height="7" fill="#c4d4f1"/>
<rect x="970" y="380" width="20" height="7" fill="#c4d4f1"/>
<path d="M850,330Q858,322 862,330Q866,345 858,350Q846,348 850,330Z" fill="#c4d4f1"/>
<rect x="871" y="265" width="88" height="165" fill="#8cabde"/>
<rect x="871" y="265" width="4" height="165" fill="#6586c9"/>
<rect x="955" y="265" width="4" height="165" fill="#6586c9"/>
<path d="M890,428L890,418L902,418L902,408L914,408L914,398L955,398L955,428Z" fill="#7c9bd4"/>
<rect x="745" y="428" width="260" height="42" fill="#a4bde9"/>
</g>
<!-- chalk outline -->
<path d="M838,451L850,446L872,442L880,437L890,441L905,443L925,445L945,447L960,451L975,452L984,456L975,458L955,456L935,454L915,457L895,462L880,458L862,455L845,457Z" fill="none" stroke="#fff" stroke-width="1"/>
<g fill="#3e4f7e"><circle cx="856" cy="437" r="1.2"/><circle cx="866" cy="441" r="1"/><circle cx="898" cy="440" r="1.3"/><circle cx="901" cy="443" r="1"/><circle cx="966" cy="432" r="1"/></g>
<g fill="#d9e3f5"><circle cx="779" cy="447" r="1.5"/><circle cx="784" cy="448" r="1.2"/><circle cx="975" cy="434" r="1.2"/></g>
<!-- tapes -->
<path d="M750,377L988,357L990,365.5L752,386Z" fill="#ec8b3e"/>
<path d="M752,384L990,363.5L990,365.5L752,386Z" fill="#d2702a"/>
<path d="M757,390L995,402L995,411L758,400Z" fill="#ec8b3e"/>
<path d="M758,398L995,409L995,411L758,400Z" fill="#d2702a"/>
<g font-family="Liberation Sans,Arial,sans-serif" font-size="4.2" font-weight="bold" fill="#7d3a10">
<text x="860" y="373" transform="rotate(-4.8 860 373)">CRIME SCENE DO NOT CROSS</text>
<text x="836" y="399" transform="rotate(2.9 836 399)">CRIME SCENE DO NOT CROSS</text>
<text x="925" y="405" transform="rotate(2.9 925 405)">CRIME SCENE DO NOT CROSS</text>
</g>
<!-- man -->
<path d="M797,418L810,418L809,445L798,445Z" fill="#1b2858"/>
<path d="M812,414L827,414L829,445L816,445Z" fill="#1b2858"/>
<path d="M794,444L810,444L810,448L792,448Z" fill="#10183a"/>
<path d="M815,444L832,444L834,448L815,448Z" fill="#10183a"/>
<path d="M803,308L820,308L822,360L804,362Z" fill="#f4f6fb"/>
<path d="M812,313L816,313L818,348L813,350Z" fill="#c8392b"/>
<path d="M800,308L806,310L808,362L806,420L791,421L786,372L783,330Q786,313 800,308Z" fill="#2c4f9f"/>
<path d="M818,309L828,316Q833,325 832,360L834,414L812,415L816,360Z" fill="#2c4f9f"/>
<path d="M806,330L812,352L806,420L800,420Z" fill="#223f86"/>
<path d="M784,330L790,328L806,342L803,350L788,345Z" fill="#2c4f9f"/>
<circle cx="806" cy="346" r="2.5" fill="#f2b68d"/>
<path d="M813,338L829,336L830,360L815,362Z" fill="#e47b35"/>
<path d="M818,334L835,333L835,347L819,348Z" fill="#fff" stroke="#c9d2e6" stroke-width=".5"/>
<rect x="806" y="303" width="6" height="7" fill="#f2b68d"/>
<ellipse cx="811" cy="300" rx="6" ry="7.5" fill="#f2b68d"/>
<path d="M800,300Q798,288 808,287Q818,287 817,295L812,294Q809,298 807,302L803,305Z" fill="#1c2b5e"/>
<!-- markers -->
<path d="M844,449L856,449L859,460L841,460Z" fill="#ec8b3e"/>
<path d="M917,432L928,432L931,442L914,442Z" fill="#ec8b3e"/>
<path d="M958,444L970,444L973,455L955,455Z" fill="#ec8b3e"/>
<g font-family="Liberation Sans,Arial,sans-serif" font-size="7" font-weight="bold" fill="#fff" text-anchor="middle">
<text x="850" y="458">1</text><text x="922.5" y="440.5">3</text><text x="964" y="453">2</text>
</g>
</svg>
</body></html>
